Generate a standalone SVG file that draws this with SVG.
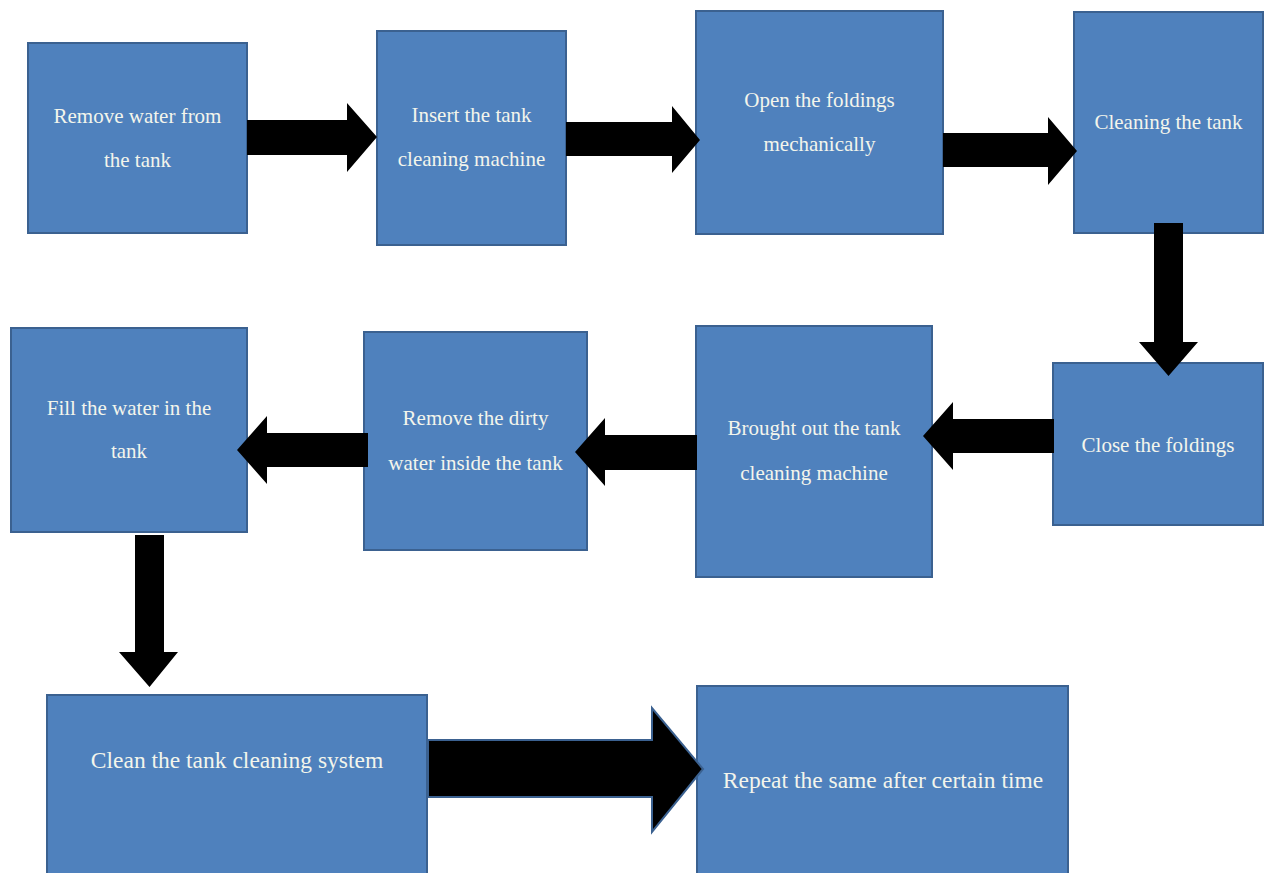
<svg xmlns="http://www.w3.org/2000/svg" width="1270" height="873" viewBox="0 0 1270 873">
<style>
.box{fill:#4f81bd;stroke:#3b6190;stroke-width:2}
.t{font-family:"Liberation Serif",serif;font-size:21px;fill:#f3f5ec;text-anchor:middle}
.tl{font-size:23.5px}
.arr{fill:#000}
.arr2{fill:#000;stroke:#3b6190;stroke-width:2;stroke-linejoin:miter}
</style>
<rect width="1270" height="873" fill="#fff"/>
<g id="n1"><rect class="box" x="28" y="43" width="219" height="190"/><text class="t" x="137.5" y="123">Remove water from</text><text class="t" x="137.5" y="167">the tank</text></g>
<g id="n2"><rect class="box" x="377" y="31" width="189" height="214"/><text class="t" x="471.5" y="122">Insert the tank</text><text class="t" x="471.5" y="166">cleaning machine</text></g>
<g id="n3"><rect class="box" x="696" y="11" width="247" height="223"/><text class="t" x="819.5" y="107">Open the foldings</text><text class="t" x="819.5" y="151">mechanically</text></g>
<g id="n4"><rect class="box" x="1074" y="12" width="189" height="221"/><text class="t" x="1168.5" y="129">Cleaning the tank</text></g>
<g id="n5"><rect class="box" x="1053" y="363" width="210" height="162"/><text class="t" x="1158" y="452">Close the foldings</text></g>
<g id="n6"><rect class="box" x="696" y="326" width="236" height="251"/><text class="t" x="814" y="435">Brought out the tank</text><text class="t" x="814" y="480">cleaning machine</text></g>
<g id="n7"><rect class="box" x="364" y="332" width="223" height="218"/><text class="t" x="475.5" y="425">Remove the dirty</text><text class="t" x="475.5" y="470">water inside the tank</text></g>
<g id="n8"><rect class="box" x="11" y="328" width="236" height="204"/><text class="t" x="129" y="415">Fill the water in the</text><text class="t" x="129" y="458">tank</text></g>
<g id="n9"><rect class="box" x="47" y="695" width="380" height="180"/><text class="t tl" x="237" y="768">Clean the tank cleaning system</text></g>
<g id="n10"><rect class="box" x="697" y="686" width="371" height="189"/><text class="t tl" x="883" y="788">Repeat the same after certain time</text></g>
<g id="connectors">
<polygon class="arr" points="247,120 347,120 347,103 377,137 347,172 347,155 247,155"/>
<polygon class="arr" points="566,122 672,122 672,106 700,140 672,173 672,156 566,156"/>
<polygon class="arr" points="943,133 1048,133 1048,117 1077,151 1048,185 1048,167 943,167"/>
<polygon class="arr" points="1154,223 1183,223 1183,342 1198,342 1168.5,376 1139,342 1154,342"/>
<polygon class="arr" points="1054,419 953,419 953,402 923,436 953,470 953,453 1054,453"/>
<polygon class="arr" points="697,435 605,435 605,418 575,452 605,486 605,470 697,470"/>
<polygon class="arr" points="368,433 267,433 267,416 237,450 267,484 267,467 368,467"/>
<polygon class="arr" points="135,535 164,535 164,652 178,652 149.5,687 119,652 135,652"/>
<polygon class="arr2" points="428,740 652,740 652,708 703,769 652,832 652,797 428,797"/>
</g>
</svg>
